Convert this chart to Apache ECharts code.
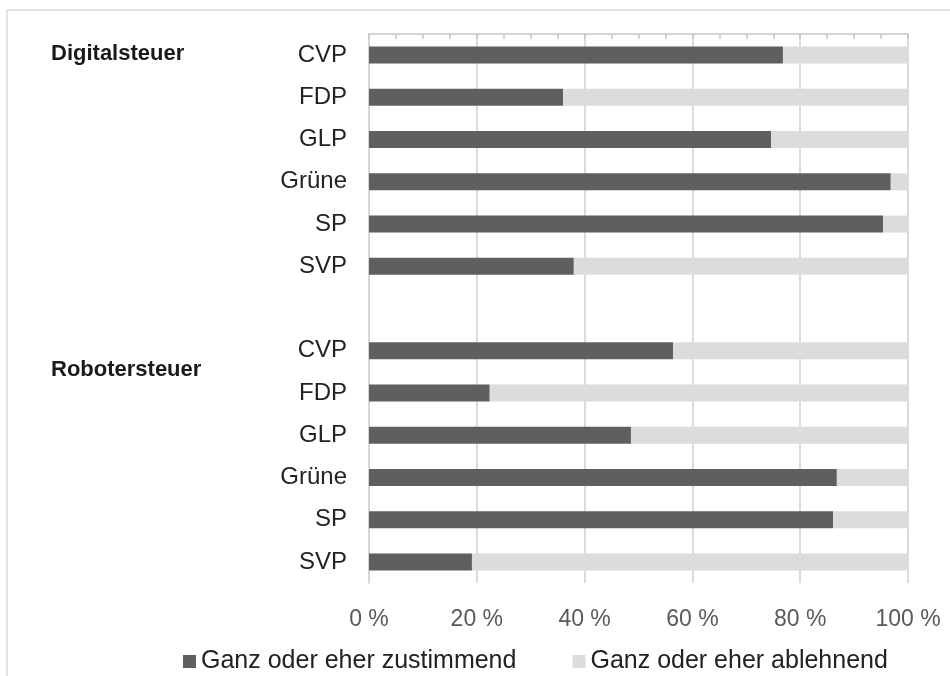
<!DOCTYPE html>
<html>
<head>
<meta charset="utf-8">
<script src="https://cdn.jsdelivr.net/npm/echarts@6/dist/echarts.min.js"></script>
<style>html,body{margin:0;padding:0;background:#fff}#c{width:950px;height:676px}</style>
</head>
<body>
<div id="c"></div>
<script>
const categories = ['CVP','FDP','GLP','Grüne','SP','SVP','','CVP','FDP','GLP','Grüne','SP','SVP'];
const agree    = [76.8, 36.0, 74.6, 96.8, 95.4, 38.0, null, 56.4, 22.4, 48.6, 86.8, 86.1, 19.1];
const disagree = [23.2, 64.0, 25.4, 3.2, 4.6, 62.0, null, 43.6, 77.6, 51.4, 13.2, 13.9, 80.9];
const seriesNames = ['Ganz oder eher zustimmend', 'Ganz oder eher ablehnend'];
const groupLabels = ['Digitalsteuer', 'Robotersteuer'];
const xTicks = [0, 20, 40, 60, 80, 100];

const chart = echarts.init(document.getElementById('c'), null, {renderer: 'canvas'});
const font = '"Liberation Sans", Arial, sans-serif';
chart.setOption({
  animation: false,
  backgroundColor: '#fff',
  grid: {left: 369, right: 42, top: 34, bottom: 93, containLabel: false},
  xAxis: [{
    type: 'value', min: xTicks[0], max: xTicks[xTicks.length - 1], interval: 20,
    position: 'bottom',
    axisLine: {show: false}, axisTick: {show: false},
    axisLabel: {formatter: '{value} %', color: '#595959', fontFamily: font, fontSize: 23, margin: 25},
    splitLine: {show: true, lineStyle: {color: '#cfcfcf', width: 1.5}}
  }, {
    type: 'value', min: 0, max: 100, interval: 5, position: 'top',
    axisLine: {show: true, onZero: false, lineStyle: {color: '#c6c6c6', width: 1.5}},
    axisTick: {show: true, inside: true, length: 5, lineStyle: {color: '#c6c6c6', width: 1.5}},
    axisLabel: {show: false}, splitLine: {show: false}
  }],
  yAxis: {
    type: 'category', data: categories, inverse: true,
    axisLine: {show: true, lineStyle: {color: '#d6d6d6', width: 1.5}},
    axisTick: {show: false},
    axisLabel: {color: '#222222', fontFamily: font, fontSize: 24, margin: 22}
  },
  legend: {
    left: 183, top: 649, padding: 0, itemWidth: 13, itemHeight: 13, itemGap: 56,
    icon: 'rect',
    textStyle: {color: '#222222', fontFamily: font, fontSize: 25},
    data: seriesNames
  },
  series: [{
    name: seriesNames[0], type: 'bar', stack: 's', data: agree, barWidth: 17, xAxisIndex: 1,
    itemStyle: {color: '#5f5f61'}
  }, {
    name: seriesNames[1], type: 'bar', stack: 's', data: disagree, barWidth: 17, xAxisIndex: 1,
    itemStyle: {color: '#dcdcde'}
  }],
  graphic: [
    {type: 'rect', shape: {x: 7, y: 10, width: 1200, height: 1000}, style: {fill: 'none', stroke: '#d9d9d9', lineWidth: 1.5}, silent: true, z: -1},
    {type: 'text', left: 51, top: 43, style: {text: groupLabels[0], fill: '#1a1a1a', font: 'bold 22px ' + font}},
    {type: 'text', left: 51, top: 359, style: {text: groupLabels[1], fill: '#1a1a1a', font: 'bold 22px ' + font}}
  ]
});
</script>
</body>
</html>
